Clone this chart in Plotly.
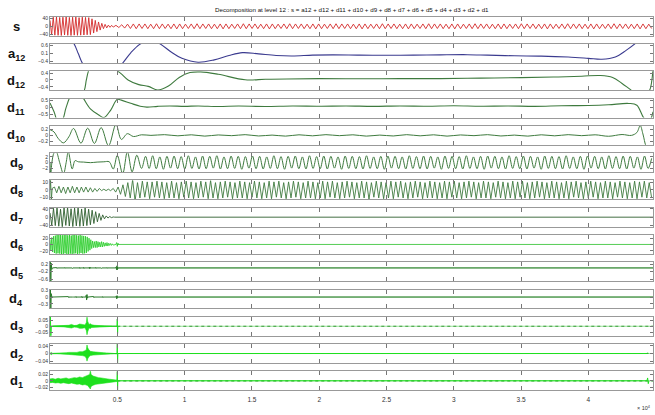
import plotly.graph_objects as go

# ---------------- data (x in units of 1e4 samples) ----------------
row_names = ["s", "a12", "d12", "d11", "d10", "d9", "d8", "d7", "d6", "d5", "d4", "d3", "d2", "d1"]
row_labels = ["<b>s</b>", "<b>a<sub>12</sub></b>", "<b>d<sub>12</sub></b>", "<b>d<sub>11</sub></b>",
              "<b>d<sub>10</sub></b>", "<b>d<sub>9</sub></b>", "<b>d<sub>8</sub></b>", "<b>d<sub>7</sub></b>",
              "<b>d<sub>6</sub></b>", "<b>d<sub>5</sub></b>", "<b>d<sub>4</sub></b>", "<b>d<sub>3</sub></b>",
              "<b>d<sub>2</sub></b>", "<b>d<sub>1</sub></b>"]
x_tickvals = [0.5, 1, 1.5, 2, 2.5, 3, 3.5, 4]
x_ticktext = ["0.5", "1", "1.5", "2", "2.5", "3", "3.5", "4"]
title_text = "Decomposition at level 12 : s = a12 + d12 + d11 + d10 + d9 + d8 + d7 + d6 + d5 + d4 + d3 + d2 + d1"

y_ranges = {"s": [-48, 48], "a12": [-0.5, 0.7], "d12": [-0.6, 0.5], "d11": [-0.7, 0.6],
            "d10": [-0.33, 0.33], "d9": [-3.3, 3.3], "d8": [-13, 13], "d7": [-45, 45],
            "d6": [-30, 30], "d5": [-0.7, 0.3], "d4": [-0.5, 0.33], "d3": [-0.078, 0.078],
            "d2": [-0.05, 0.05], "d1": [-0.03, 0.03]}
y_ticks = {"s": [-40, 0, 40], "a12": [-0.4, 0.1, 0.6],
           "d12": [-0.4, 0, 0.4], "d11": [-0.5, 0, 0.5], "d10": [-0.2, 0, 0.2],
           "d9": [-2, 0, 2], "d8": [-10, 0, 10], "d7": [-40, 0, 40], "d6": [-20, 0, 20],
           "d5": [-0.6, -0.2, 0.2], "d4": [-0.3, 0, 0.3], "d3": [-0.05, 0, 0.05],
           "d2": [-0.04, 0, 0.04], "d1": [-0.02, 0, 0.02]}

# s : extrema values of the signal (head, decay, tail)
s_head = [30, -44, 46, -45, 47, -46, 45, -47, 46, -44, 48, -46, 45, -47, 46, -45, 47, -46, 44, -45,
          46, -44, 45, -43, 44, -42]
s_decay = [38, -34, 30, -27, 22, -19, 15, -12, 10, -8, 6, -5, 5, -4]
s_tail = [5, -6, 8, -9, 11, -11, 12, -12, 12, -11,
          12, -12, 11, -12, 13, -12, 12, -11, 11, -12,
          12, -13, 12, -12, 11, -11, 12, -12, 13, -12,
          12, -11, 12, -12, 11, -12, 12, -13, 12, -12,
          11, -11, 12, -12, 13, -12, 12, -11, 12, -12,
          11, -12, 12, -13, 12, -12, 11, -11, 12, -12,
          13, -12, 12, -11, 12, -12, 11, -12, 12, -13,
          12, -12, 11, -11, 12, -12, 13, -12, 12, -11,
          12, -12, 11, -12, 12, -13, 12, -12, 11, -11,
          12, -12, 13, -12, 12, -11, 12, -12, 11, -12,
          12, -13, 12, -12, 11, -11, 12, -12, 13, -12,
          12, -11, 12, -12, 11, -12, 12, -13, 12, -12,
          11, -11, 12, -12, 13, -12, 12, -11, 12, -12,
          11, -12, 12, -13, 12, -12, 11, -11, 12, -12,
          13, -12, 12, -11, 12, -12, 11, -12, 12, -13,
          12, -12, 11, -11, 12, -12, 13, -12, 12, -11,
          12, -12, 11, -12, 12, -13, 12, -12, 11, -11,
          12, -12, 13, -12, 12, -11, 12, -12, 11, -12,
          12, -13, 12, -12, 11, -11]

a12_x = [0.00, 0.08, 0.15, 0.18, 0.21, 0.24, 0.30, 0.38, 0.46, 0.54, 0.60, 0.67, 0.745, 0.82, 0.90, 0.98,
         1.10, 1.22, 1.33, 1.43, 1.55, 1.68, 1.80, 1.95, 2.10, 2.30, 2.50, 2.70, 2.90, 3.10, 3.25, 3.45,
         3.65, 3.85, 4.00, 4.10, 4.20, 4.28, 4.35, 4.42, 4.48]
a12_v = [2.0, 1.6, 1.0, 0.7, 0.1, -0.5, -1.2, -1.5, -1.2, -0.5, 0.15, 0.7, 0.95, 0.7, 0.2, -0.2,
         -0.45, -0.3, -0.02, 0.16, 0.08, -0.02, -0.05, 0.0, 0.02, 0.0, -0.01, 0.0, 0.02, 0.03, 0.0, -0.04,
         -0.06, -0.12, -0.2, -0.26, -0.12, 0.3, 0.75, 1.3, 1.8]

d12_x = [0.00, 0.10, 0.18, 0.23, 0.255, 0.27, 0.285, 0.32, 0.40, 0.46, 0.50, 0.53, 0.58, 0.66, 0.73, 0.80,
         0.88, 0.96, 1.04, 1.12, 1.25, 1.45, 1.60, 1.76, 2.0, 2.3, 2.6, 2.9, 3.2, 3.5, 3.74, 3.95, 4.09,
         4.18, 4.25, 4.32, 4.38, 4.43, 4.455, 4.48]
d12_v = [-1.2, -1.6, -1.4, -0.9, -0.6, 0.0, 0.5, 1.1, 1.4, 1.0, 0.55, 0.35, 0.0, -0.27, -0.37, -0.58,
         -0.35, 0.15, 0.43, 0.47, 0.33, 0.01, 0.04, 0.06, 0.08, 0.07, 0.08, 0.08, 0.11, 0.14, 0.17, 0.22, 0.26,
         0.15, -0.2, -0.6, -0.9, -0.8, -0.6, 0.6]

d11_x = [0.00, 0.03, 0.06, 0.09, 0.12, 0.16, 0.21, 0.25, 0.30, 0.36, 0.40, 0.45, 0.50, 0.53, 0.60, 0.67,
         0.72, 0.80, 0.89, 1.0, 1.1, 1.25, 1.4, 1.6, 1.8, 2.0, 2.2, 2.4, 2.6, 2.8, 3.0, 3.2, 3.4, 3.6, 3.8,
         4.0, 4.15, 4.3, 4.36, 4.41, 4.45, 4.48]
d11_v = [0.3, -0.3, -1.0, -0.9, 0.0, 0.9, 1.2, 0.6, -0.1, -0.5, -0.7, -0.2, 0.55, 0.5, 0.28, 0.08,
         0.02, 0.07, 0.1, 0.07, 0.1, 0.06, 0.09, 0.06, 0.1, 0.08, 0.1, 0.07, 0.1, 0.08, 0.11, 0.08, 0.1, 0.07, 0.11,
         0.13, 0.18, 0.27, 0.15, -0.7, -1.0, -0.3]

d10_x = [0.00, 0.03, 0.06, 0.10, 0.14, 0.175, 0.23, 0.28, 0.33, 0.38, 0.435, 0.49, 0.53, 0.575, 0.62, 0.68,
         0.75, 0.85, 0.95, 1.05, 1.15, 1.25, 1.35, 1.45, 1.55, 1.65, 1.75, 1.85, 1.95, 2.05, 2.15, 2.25,
         2.35, 2.45, 2.55, 2.65, 2.75, 2.85, 2.95, 3.05, 3.15, 3.25, 3.35, 3.45, 3.55, 3.65, 3.75, 3.85,
         3.95, 4.05, 4.15, 4.25, 4.32, 4.36, 4.385, 4.405, 4.43, 4.46, 4.48]
d10_v = [0.20, 0.12, -0.10, -0.26, -0.05, 0.24, -0.27, 0.25, -0.28, 0.27, -0.36, 0.38, -0.14, 0.06, -0.04, 0.02,
         0.0, 0.025, -0.015, 0.02, -0.025, 0.015, -0.01, 0.025, -0.02, 0.01, -0.025, 0.02, -0.015, 0.025, -0.01, 0.02,
         -0.025, 0.01, -0.02, 0.025, -0.015, 0.02, -0.025, 0.015, -0.01, 0.025, -0.02, 0.01, -0.025, 0.02, -0.015, 0.025,
         -0.01, 0.02, -0.03, 0.03, 0.0, 0.1, 0.34, 0.05, -0.4, -0.6, -0.5]

d9_head_x = [0.0, 0.006, 0.014, 0.03, 0.045, 0.072, 0.10, 0.12, 0.136, 0.165, 0.186, 0.21, 0.25, 0.30,
             0.35, 0.40, 0.44, 0.47, 0.50, 0.54, 0.575, 0.61, 0.645, 0.68]
d9_head_v = [0.0, -3.8, 0.0, 3.4, 3.9, 0.0, -3.9, 0.0, 3.8, -2.2, 0.7, 0.3, 0.2, 0.0,
             0.2, 0.3, 0.3, -2.2, 2.5, -3.8, 3.8, -3.2, 2.6, -2.0]
d9_tail = [2.2, -2.0, 2.4, -2.1, 2.0, -2.3, 2.2, -1.9, 2.3, -2.1,
           2.1, -2.2, 2.4, -2.0, 2.0, -2.2, 2.3, -2.1, 2.2, -1.9,
           2.4, -2.2, 2.0, -2.1, 2.3, -2.0, 2.2, -2.3, 2.1, -1.9,
           2.3, -2.1, 2.2, -2.2, 2.0, -2.0, 2.4, -2.1, 2.1, -2.3,
           2.2, -1.9, 2.3, -2.1, 2.0, -2.2, 2.4, -2.0, 2.1, -2.1,
           2.3, -2.2, 2.2, -1.9, 2.0, -2.3, 2.3, -2.0, 2.2, -2.1,
           2.1, -2.2, 2.4, -2.0, 2.0, -2.1, 2.2, -2.3, 2.3, -1.9,
           2.2, -2.1, 2.0, -2.2, 2.4, -2.0, 2.1, -2.1, 2.3, -2.2,
           2.2, -1.9, 2.0, -2.3, 2.3, -2.0, 2.2, -2.1, 2.1, -2.2,
           2.4, -2.0, 2.0, -2.1, 2.2, -2.3, 2.3, -1.9, 2.2, -2.1,
           2.0, -2.2, 2.4, -2.0, 2.1, -2.1, 2.3, -2.2, 2.2, -1.9,
           2.0, -2.3, 2.3, -2.0, 2.2, -2.1, 2.1, -2.2, 2.4, -2.0,
           2.0, -2.1, 2.2, -2.3, 2.3, -1.9, 2.2, -2.1, 2.0, -2.2,
           2.4, -2.0, 2.1, -2.1, 2.3, -2.2, 2.2, -1.9, 2.0, -2.3,
           2.3, -2.0, 1.5]

d8_spike_x = [0.0, 0.004, 0.010, 0.016]
d8_spike_v = [0, 14, -14, 2]
d8_early = [4, -4, 5, -4, 4, -5, 4, -4, 5, -4, 4, -4, 4, -3, 4, -3, 3, -3, 2, -2, 2, -1, 1, -1, 1, -1]
d8_rise = [2, -3, 4, -6, 7, -9, 10, -11, 14, -15]
d8_tail = [10, -11, 12, -10, 11, -12, 11, -10, 12, -11,
           11, -12, 10, -11, 12, -11, 10, -12, 11, -10,
           12, -11, 11, -12, 10, -11, 12, -10, 11, -12,
           13, -11, 10, -12, 11, -11, 12, -10, 11, -12,
           10, -11, 12, -11, 11, -12, 10, -10, 12, -11,
           11, -12, 10, -11, 12, -12, 11, -10, 12, -11,
           10, -12, 11, -11, 12, -10, 11, -12, 10, -11,
           12, -11, 11, -12, 10, -11, 12, -12, 11, -10,
           12, -11, 10, -12, 11, -11, 12, -10, 11, -12,
           10, -11, 12, -11, 11, -13, 10, -10, 12, -11,
           11, -12, 10, -11, 12, -12, 11, -10, 12, -11,
           10, -12, 11, -11, 12, -10, 11, -12, 10, -11,
           12, -11, 11, -12, 10, -11, 12, -12, 11, -10,
           12, -11, 10, -12, 11, -11, 12, -10, 11, -12,
           10, -11, 12, -11, 11, -12, 10, -10, 12, -11,
           11, -12, 10, -11, 12, -12, 11, -10, 12, -11,
           10, -12, 11, -11, 12, -10, 11, -12, 10, -11,
           12, -11, 11, -12, 10, -11, 12, -12, 11, -10,
           12, -11, 10, -12, 11, -11, 12, -10, 11, -12,
           10, -11, 12, -11, 11, -12, 10, -10, 12, -11,
           11, -12, 10, -11, 12, -12, 11, -10, 12, -11,
           10, -11]

d7_head = [20, -38, 42, -40, 45, -43, 38, -46, 44, -39, 47, -42, 40, -45, 43, -41, 46, -44, 39, -42,
           44, -40, 38, -36]
d7_decay = [33, -30, 26, -22, 18, -15, 11, -8, 6, -4, 3, -2, 1]

d6_head = [16, -20, 22, -24, 26, -27, 28, -29, 30, -28, 31, -29, 30, -31, 29, -30, 31, -28, 30, -31,
           29, -30, 31, -29, 28, -30, 31, -29, 30, -28, 29, -30, 28, -29, 30, -27, 28, -29, 27, -28,
           26, -27]
d6_decay = [24, -22, 20, -18, 15, -13, 11, -10, 9, -10, 11, -10, 9, -8, 7, -8, 9, -8, 7, -6,
            5, -5, 6, -5, 4, -3, 3, -3, 2, -2]
d6_spike_x = [0.49, 0.495, 0.5, 0.505, 0.51]
d6_spike_v = [0, 6, -6, 4, 0]

d5_x = [0.0, 0.003, 0.006, 0.009, 0.013, 0.018,
        0.048, 0.05, 0.052, 0.054, 0.108, 0.11, 0.112, 0.114, 0.163, 0.165, 0.167, 0.169,
        0.218, 0.22, 0.222, 0.224, 0.248, 0.25, 0.252, 0.254, 0.29, 0.293, 0.296, 0.299, 0.302,
        0.338, 0.34, 0.342, 0.344, 0.378, 0.38, 0.382, 0.384, 0.423, 0.425, 0.427, 0.429,
        0.488, 0.491, 0.494, 0.497, 0.50, 0.503, 0.506, 0.51, 4.48]
d5_v = [0, 0.32, -0.72, 0.25, -0.08, 0,
        0, 0.02, -0.025, 0, 0, 0.025, -0.02, 0, 0, 0.02, -0.025, 0,
        0, 0.025, -0.03, 0, 0, 0.03, -0.03, 0, 0, 0.04, -0.05, 0.035, 0,
        0, 0.03, -0.025, 0, 0, 0.02, -0.025, 0, 0, 0.02, -0.02, 0,
        0, 0.05, -0.09, 0.11, -0.1, 0.06, -0.03, 0, 0]

d4_x = [0.0, 0.003, 0.006, 0.009, 0.014, 0.135, 0.137, 0.139, 0.141, 0.168, 0.17, 0.172, 0.174,
        0.192, 0.194, 0.196, 0.198, 0.235, 0.237, 0.239, 0.241, 0.266, 0.269, 0.272, 0.275, 0.278, 0.281,
        0.322, 0.324, 0.326, 0.328, 0.388, 0.39, 0.392, 0.394, 0.49, 0.493, 0.496, 0.499, 0.502, 0.506, 4.48]
d4_v = [0, 0.35, -0.55, 0.15, 0, 0, 0.02, -0.02, 0, 0, 0.015, -0.015, 0,
        0, 0.025, -0.02, 0, 0, 0.03, -0.03, 0, 0, 0.08, -0.13, 0.11, -0.05, 0,
        0, 0.025, -0.025, 0, 0, 0.02, -0.02, 0, 0, 0.05, -0.08, 0.06, -0.03, 0, 0]

d3_env_x = [0.02, 0.06, 0.08, 0.10, 0.12, 0.14, 0.16, 0.18, 0.20, 0.22, 0.24, 0.26, 0.27, 0.275, 0.28,
            0.29, 0.30, 0.31, 0.33, 0.35, 0.37, 0.40, 0.43, 0.46]
d3_env_hi = [0.002, 0.002, 0.005, 0.004, 0.006, 0.008, 0.015, 0.006, 0.008, 0.018, 0.015, 0.01, 0.03, 0.075,
             0.04, 0.015, 0.02, 0.012, 0.008, 0.006, 0.007, 0.004, 0.003, 0.001]
d3_env_lo = [-0.002, -0.002, -0.004, -0.005, -0.006, -0.009, -0.014, -0.007, -0.009, -0.017, -0.016, -0.012,
             -0.035, -0.07, -0.045, -0.014, -0.018, -0.01, -0.008, -0.006, -0.006, -0.004, -0.003, -0.001]
d3_spike_x = [0.0, 0.003, 0.006, 0.01, 0.498, 0.5, 0.502, 0.504]
d3_spike_v = [0, 0.09, -0.09, 0, 0, 0.06, -0.06, 0]

d2_env_x = [0.0, 0.01, 0.02, 0.05, 0.08, 0.10, 0.12, 0.14, 0.16, 0.18, 0.20, 0.22, 0.24, 0.26, 0.27,
            0.275, 0.28, 0.29, 0.30, 0.32, 0.34, 0.36, 0.38, 0.40, 0.42, 0.45, 0.48, 0.50]
d2_env_hi = [0.001, 0.006, 0.001, 0.001, 0.002, 0.005, 0.004, 0.006, 0.005, 0.007, 0.006, 0.01, 0.009, 0.015,
             0.02, 0.045, 0.03, 0.018, 0.012, 0.009, 0.007, 0.006, 0.005, 0.004, 0.003, 0.002, 0.001, 0.001]
d2_env_lo = [-0.001, -0.006, -0.001, -0.001, -0.002, -0.004, -0.005, -0.005, -0.006, -0.006, -0.008, -0.009,
             -0.011, -0.014, -0.025, -0.04, -0.028, -0.016, -0.011, -0.008, -0.007, -0.005, -0.005, -0.003,
             -0.003, -0.002, -0.001, -0.001]
d2_spike_x = [0.498, 0.5, 0.502, 0.504, 4.435, 4.44, 4.445]
d2_spike_v = [0, 0.05, -0.05, 0, 0, 0.004, 0]

d1_env_x = [0.0, 0.02, 0.04, 0.06, 0.08, 0.10, 0.12, 0.14, 0.16, 0.18, 0.20, 0.22, 0.24, 0.26, 0.28,
            0.295, 0.30, 0.305, 0.32, 0.34, 0.36, 0.38, 0.40, 0.42, 0.44, 0.46, 0.48, 0.50]
d1_env_hi = [0.006, 0.007, 0.005, 0.008, 0.006, 0.007, 0.009, 0.006, 0.008, 0.01, 0.009, 0.012, 0.01, 0.014,
             0.016, 0.02, 0.032, 0.02, 0.015, 0.012, 0.01, 0.009, 0.007, 0.006, 0.005, 0.004, 0.003, 0.002]
d1_env_lo = [-0.006, -0.005, -0.007, -0.006, -0.008, -0.006, -0.007, -0.009, -0.007, -0.009, -0.011, -0.01,
             -0.013, -0.012, -0.015, -0.022, -0.026, -0.018, -0.014, -0.011, -0.009, -0.008, -0.006, -0.005,
             -0.004, -0.004, -0.003, -0.002]
d1_spike_x = [0.498, 0.5, 0.502, 0.504, 4.435, 4.44, 4.445, 4.45]
d1_spike_v = [0, 0.03, -0.03, 0, 0, 0.009, -0.009, 0]

tail_x = [0.5, 4.48]
tail_v = [0, 0]


# ---------------- helpers ----------------
def seg(x0, x1, vals):
    n = len(vals)
    return [x0 + (x1 - x0) * k / (n - 1) for k in range(n)], list(vals)


def cat(*parts):
    xs, ys = [], []
    for px, py in parts:
        xs += list(px)
        ys += list(py)
    return xs, ys


W, H = 655, 415
X0, X1 = 50, 653
TOP0, PITCH, BOXH = 14.0, 27.6, 19.2

RED = "#d42a2a"
BLUE = "#3b3b8f"
DGREEN = "#3e7a3e"
GREEN = "#22cc22"
BGREEN = "#1ee01e"

fig = go.Figure()


def ax(i):
    return ("x" if i == 0 else "x%d" % (i + 1)), ("y" if i == 0 else "y%d" % (i + 1))


def line(i, xs, ys, color, width=1.0, shape="linear", dash="solid"):
    xa, ya = ax(i)
    fig.add_trace(go.Scatter(x=xs, y=ys, mode="lines", xaxis=xa, yaxis=ya,
                             line=dict(color=color, width=width, shape=shape, dash=dash),
                             showlegend=False, hoverinfo="skip"))


def envelope(i, ex, hi, lo, color):
    xa, ya = ax(i)
    fig.add_trace(go.Scatter(x=list(ex) + list(ex)[::-1], y=list(hi) + list(lo)[::-1],
                             mode="lines", fill="toself", fillcolor=color, xaxis=xa, yaxis=ya,
                             line=dict(color=color, width=0.6), showlegend=False, hoverinfo="skip"))


def tail(i, light, dark):
    line(i, tail_x, tail_v, light, 1.0)
    line(i, tail_x, tail_v, dark, 1.2, dash="dot")


# s
sx, sy = cat(seg(0.0, 0.30, s_head), seg(0.312, 0.47, s_decay), seg(0.49, 4.47, s_tail))
line(0, sx, sy, RED, 0.9)
# a12, d12, d11, d10
line(1, a12_x, a12_v, BLUE, 1.1, "spline")
line(2, d12_x, d12_v, DGREEN, 1.1, "spline")
line(3, d11_x, d11_v, DGREEN, 1.1, "spline")
line(4, d10_x, d10_v, DGREEN, 1.0, "spline")
# d9
d9x, d9y = cat((d9_head_x, d9_head_v), seg(0.71, 4.47, d9_tail))
line(5, d9x, d9y, DGREEN, 1.0, "spline")
# d8
d8x, d8y = cat((d8_spike_x, d8_spike_v), seg(0.033, 0.45, d8_early), seg(0.47, 0.632, d8_rise),
               seg(0.65, 4.47, d8_tail))
line(6, d8x, d8y, DGREEN, 0.9)
# d7
d7x, d7y = cat(seg(0.0, 0.30, d7_head), seg(0.313, 0.47, d7_decay), ([0.48, 4.48], [0, 0]))
line(7, d7x, d7y, "#2f5f2f", 0.9)
# d6
line(8, [0.5, 4.48], [0, 0], "#55cc55", 1.0)
d6x, d6y = cat(seg(0.0, 0.27, d6_head), seg(0.2765, 0.47, d6_decay), (d6_spike_x, d6_spike_v))
line(8, d6x, d6y, GREEN, 0.8)
# d5, d4
line(9, [0.5, 4.48], [0, 0], "#9ad89a", 1.0)
line(9, d5_x, d5_v, "#2a7a2a", 1.0)
line(10, [0.5, 4.48], [0, 0], "#9ad89a", 1.0)
line(10, d4_x, d4_v, "#2a7a2a", 1.0)
# d3, d2, d1
tail(11, "#9be49b", "#3a9a3a")
line(11, [0.0, 0.5], [0, 0], "#2a8a2a", 1.0)
envelope(11, d3_env_x, d3_env_hi, d3_env_lo, BGREEN)
line(11, d3_spike_x, d3_spike_v, BGREEN, 1.0)
tail(12, "#9be49b", "#3a9a3a")
line(12, [0.0, 0.5], [0, 0], "#2a8a2a", 1.0)
envelope(12, d2_env_x, d2_env_hi, d2_env_lo, BGREEN)
line(12, d2_spike_x, d2_spike_v, BGREEN, 1.0)
tail(13, "#9be49b", "#3a9a3a")
envelope(13, d1_env_x, d1_env_hi, d1_env_lo, BGREEN)
line(13, d1_spike_x, d1_spike_v, BGREEN, 1.0)

# ---------------- layout ----------------
layout = dict(width=W, height=H, margin=dict(l=0, r=0, t=0, b=0),
              paper_bgcolor="white", plot_bgcolor="white", showlegend=False,
              font=dict(family="Liberation Sans, Arial, sans-serif", color="#222"))
annotations = []
for i, name in enumerate(row_names):
    top = TOP0 + PITCH * i
    bot = top + BOXH
    xk = "xaxis" if i == 0 else "xaxis%d" % (i + 1)
    yk = "yaxis" if i == 0 else "yaxis%d" % (i + 1)
    xa, ya = ax(i)
    last = (i == len(row_names) - 1)
    layout[xk] = dict(domain=[X0 / W, X1 / W], range=[0, 4.48], anchor=ya,
                      tickmode="array", tickvals=x_tickvals, ticktext=x_ticktext,
                      showticklabels=last, ticks="inside", ticklen=4, tickcolor="#777", tickwidth=1,
                      showline=True, mirror="ticks", linecolor="#999", linewidth=1,
                      showgrid=False, zeroline=False, fixedrange=True, ticklabelstandoff=3,
                      tickfont=dict(size=6.5, color="#333"))
    layout[yk] = dict(domain=[1 - bot / H, 1 - top / H], range=y_ranges[name], anchor=xa,
                      tickmode="array", tickvals=y_ticks[name], ticks="inside", ticklen=3,
                      tickcolor="#777", tickwidth=1, showline=True, mirror="ticks",
                      linecolor="#999", linewidth=1, showgrid=False, zeroline=False,
                      fixedrange=True, tickfont=dict(size=5, color="#333"))
    annotations.append(dict(xref="paper", yref="paper", x=16 / W, y=1 - (top + BOXH / 2 + 0.5) / H,
                            text=row_labels[i], showarrow=False, xanchor="center", yanchor="middle",
                            font=dict(size=13, color="#111", family="Liberation Sans, Arial")))

annotations.append(dict(xref="paper", yref="paper", x=(X0 + X1) / 2 / W, y=1 - 7 / H, text=title_text,
                        showarrow=False, xanchor="center", yanchor="middle",
                        font=dict(size=6.2, color="#111")))
annotations.append(dict(xref="paper", yref="paper", x=X1 / W, y=1 - 410 / H, text="× 10<sup>4</sup>",
                        showarrow=False, xanchor="right", yanchor="middle",
                        font=dict(size=5.5, color="#333")))
layout["annotations"] = annotations
fig.update_layout(**layout)

fig.write_html("out.html")
